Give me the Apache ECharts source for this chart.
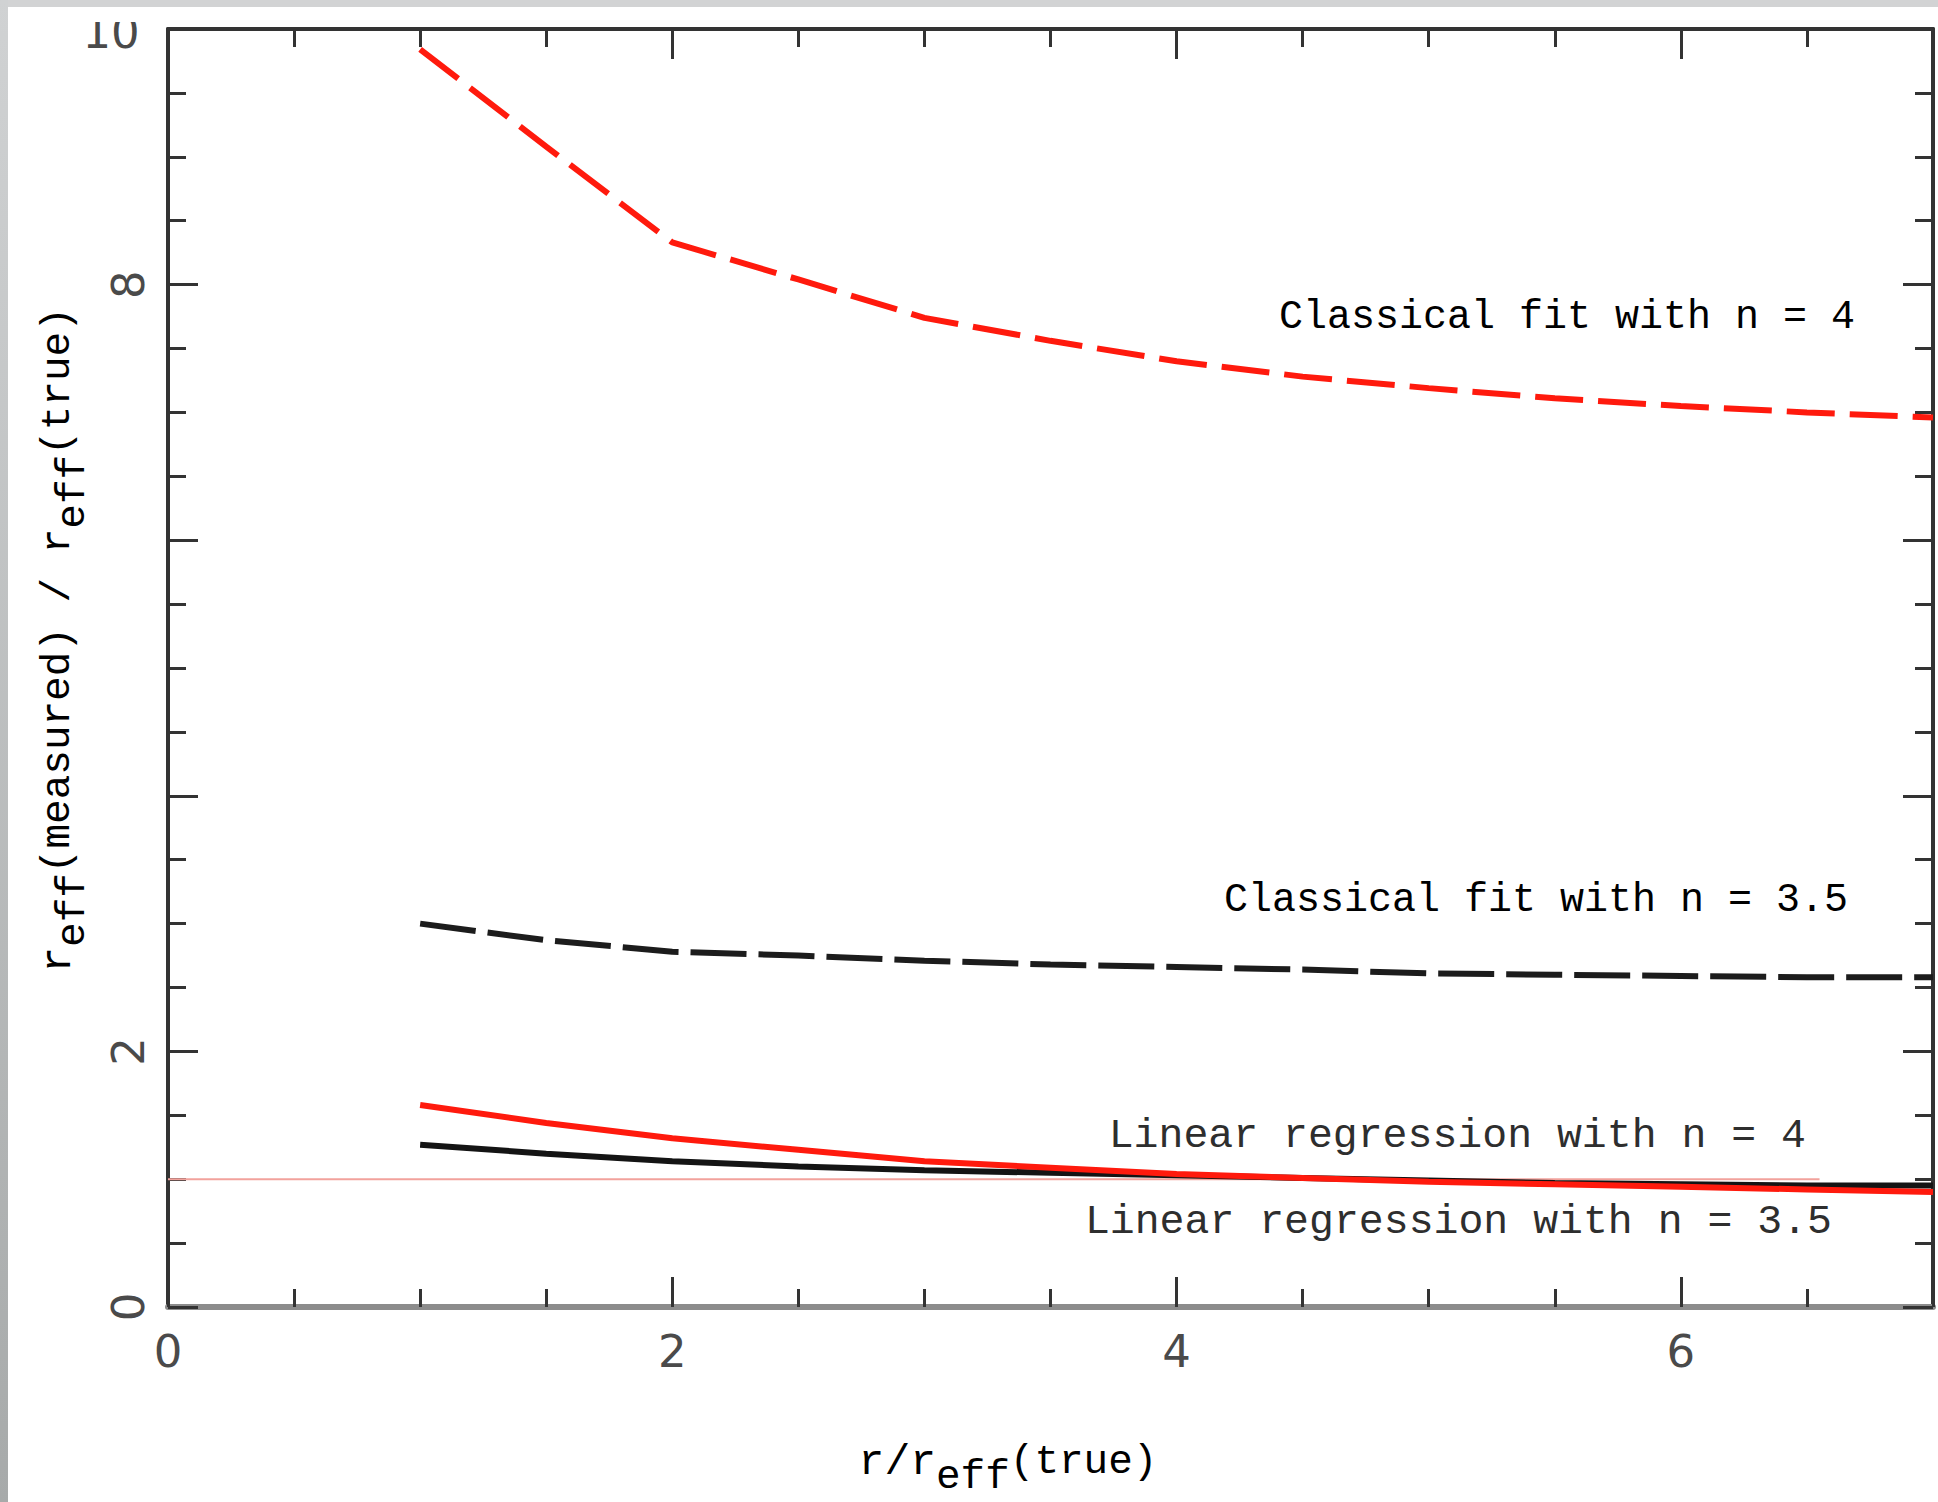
<!DOCTYPE html>
<html>
<head>
<meta charset="utf-8">
<title>r_eff(measured) / r_eff(true)</title>
<script src="https://cdn.jsdelivr.net/npm/echarts/dist/echarts.min.js"></script>
<style>
	html, body { margin: 0; padding: 0; background: #fff; }
</style>
</head>
<body>
	<div id="myChart" style="width: 1938px; height: 1502px;"></div>
<script>
	// r / r_eff(true)
	var xVals = [1, 1.5, 2, 2.5, 3, 3.5, 4, 4.5, 5, 5.5, 6, 6.5, 7];
	// classical fit, n = 4 (red dashed)
	var classicalN4 = [9.84, 9.08, 8.33, 8.04, 7.74, 7.56, 7.40, 7.28, 7.19, 7.11, 7.05, 7.00, 6.96];
	// classical fit, n = 3.5 (black dashed)
	var classicalN35 = [3.00, 2.87, 2.78, 2.75, 2.71, 2.68, 2.66, 2.64, 2.61, 2.60, 2.59, 2.58, 2.58];
	// linear regression, n = 4 (red)
	var linearN4 = [1.58, 1.44, 1.32, 1.23, 1.14, 1.09, 1.04, 1.01, 0.98, 0.96, 0.94, 0.92, 0.90];
	// linear regression, n = 3.5 (black)
	var linearN35 = [1.27, 1.20, 1.14, 1.10, 1.07, 1.05, 1.03, 1.01, 0.99, 0.97, 0.96, 0.95, 0.95];
	// thin reference line at ratio = 1
	var refX = [0, 6.55];
	var refY = [1, 1];

	// tick labels that are printed (the "10" at the top is drawn upright, see graphic)
	var xTickLabels = [0, 2, 4, 6];
	var yTickLabels = [0, 2, 8];
	var yTopLabel = '10';

	var labelFont = 'Liberation Mono';
	var digitFont = 'DejaVu Sans';

	function pairs(xs, ys) {
		var out = [];
		for (let i = 0; i < xs.length; i++) {
			out.push([xs[i], ys[i]]);
		}
		return out;
	}

	function makeAxis(pos, min, max, labels, dark) {
		var isY = (pos === 'left' || pos === 'right');
		var showLabel = labels != null;
		return {
			type: 'value',
			position: pos,
			min: min,
			max: max,
			interval: 2,
			axisLine: {
				show: true,
				onZero: false,
				lineStyle: { color: dark ? '#333' : '#8c8c8c', width: dark ? 4 : 6 }
			},
			axisTick: { show: true, inside: true, length: 30, lineStyle: { color: '#333', width: 3 } },
			minorTick: { show: true, splitNumber: 4, length: 18, lineStyle: { color: '#333', width: 3 } },
			splitLine: { show: false },
			minorSplitLine: { show: false },
			axisLabel: {
				show: showLabel,
				rotate: isY ? 90 : 0,
				margin: isY ? 17 : 22,
				fontFamily: digitFont,
				fontSize: 45,
				color: '#4a4a4a',
				formatter: function (v) {
					return (labels && labels.indexOf(v) >= 0) ? String(v) : '';
				}
			}
		};
	}

	var titleRich = {
		a: { fontFamily: labelFont, fontSize: 43, color: '#333', lineHeight: 70, verticalAlign: 'middle' },
		b: { fontFamily: labelFont, fontSize: 41, color: '#333', lineHeight: 26, verticalAlign: 'bottom' },
		c: { fontFamily: labelFont, fontSize: 41, color: '#333', lineHeight: 70, verticalAlign: 'middle' }
	};

	function note(text, x, y, color, size) {
		return {
			type: 'text',
			x: x,
			y: y,
			z: 50,
			style: {
				text: text,
				fontFamily: labelFont,
				fontSize: size,
				fill: color,
				align: 'right',
				verticalAlign: 'middle'
			}
		};
	}

	var option = {
		animation: false,
		backgroundColor: '#fff',
		grid: {
			left: 168,
			right: 5,
			top: 29,
			bottom: 195,
			containLabel: false,
			outerBoundsMode: 'none'
		},
		xAxis: [
			makeAxis('bottom', 0, 7, xTickLabels, false),
			makeAxis('top', 0, 7, null, true)
		],
		yAxis: [
			makeAxis('left', 0, 10, yTickLabels, true),
			makeAxis('right', 0, 10, null, true)
		],
		series: [
			{
				name: 'ratio = 1',
				type: 'line',
				symbol: 'none',
				z: 1,
				data: pairs(refX, refY),
				lineStyle: { color: '#f2a29c', width: 2 }
			},
			{
				name: 'Classical fit with n = 4',
				type: 'line',
				symbol: 'none',
				z: 3,
				data: pairs(xVals, classicalN4),
				lineStyle: { color: '#ff1a0d', width: 6, type: [48, 15] }
			},
			{
				name: 'Classical fit with n = 3.5',
				type: 'line',
				symbol: 'none',
				z: 3,
				data: pairs(xVals, classicalN35),
				lineStyle: { color: '#1c1c1c', width: 6, type: [56, 12] }
			},
			{
				name: 'Linear regression with n = 3.5',
				type: 'line',
				symbol: 'none',
				z: 2,
				data: pairs(xVals, linearN35),
				lineStyle: { color: '#141414', width: 6 }
			},
			{
				name: 'Linear regression with n = 4',
				type: 'line',
				symbol: 'none',
				z: 3,
				data: pairs(xVals, linearN4),
				lineStyle: { color: '#ff1a0d', width: 6 }
			}
		],
		graphic: [
			// axis titles
			{
				type: 'text',
				x: 1008,
				y: 1462,
				z: 50,
				style: {
					text: '{a|r/r}{b|eff}{c|(true)}',
					rich: titleRich,
					align: 'center',
					verticalAlign: 'middle'
				}
			},
			{
				type: 'text',
				x: 58,
				y: 640,
				rotation: Math.PI / 2,
				z: 50,
				style: {
					text: '{a|r}{b|eff}{c|(measured) / r}{b|eff}{c|(true)}',
					rich: titleRich,
					align: 'center',
					verticalAlign: 'middle'
				}
			},
			// upright "10" at the top of the y axis
			{
				type: 'text',
				x: 111,
				y: 32,
				z: 50,
				style: {
					text: yTopLabel,
					fontFamily: digitFont,
					fontSize: 45,
					fill: '#4a4a4a',
					align: 'center',
					verticalAlign: 'middle'
				}
			},
			// curve notes
			note('Classical fit with n = 4', 1855, 317, '#000', 40),
			note('Classical fit with n = 3.5', 1848, 900, '#000', 40),
			note('Linear regression with n = 4', 1806, 1135, '#2e2e2e', 41.5),
			note('Linear regression with n = 3.5', 1832, 1221, '#2e2e2e', 41.5),
			// the picture is cropped at the top: hide the upper part of "10"
			{ type: 'rect', z: 90, shape: { x: 0, y: 0, width: 160, height: 22 }, style: { fill: '#fff' } },
			// grey frame round the picture
			{ type: 'rect', z: 100, shape: { x: 0, y: 0, width: 1938, height: 7 }, style: { fill: '#d2d3d4' } },
			{
				type: 'rect', z: 100,
				shape: { x: 0, y: 0, width: 8, height: 1502 },
				style: {
					fill: new echarts.graphic.LinearGradient(0, 0, 0, 1, [
						{ offset: 0, color: '#d0d2d3' },
						{ offset: 1, color: '#a7aaaa' }
					])
				}
			}
		]
	};

	// 基于准备好的dom，初始化echarts实例
	let myChart = echarts.init(document.getElementById('myChart'), null, { renderer: 'svg' });
	myChart.setOption(option);
</script>
</body>
</html>
